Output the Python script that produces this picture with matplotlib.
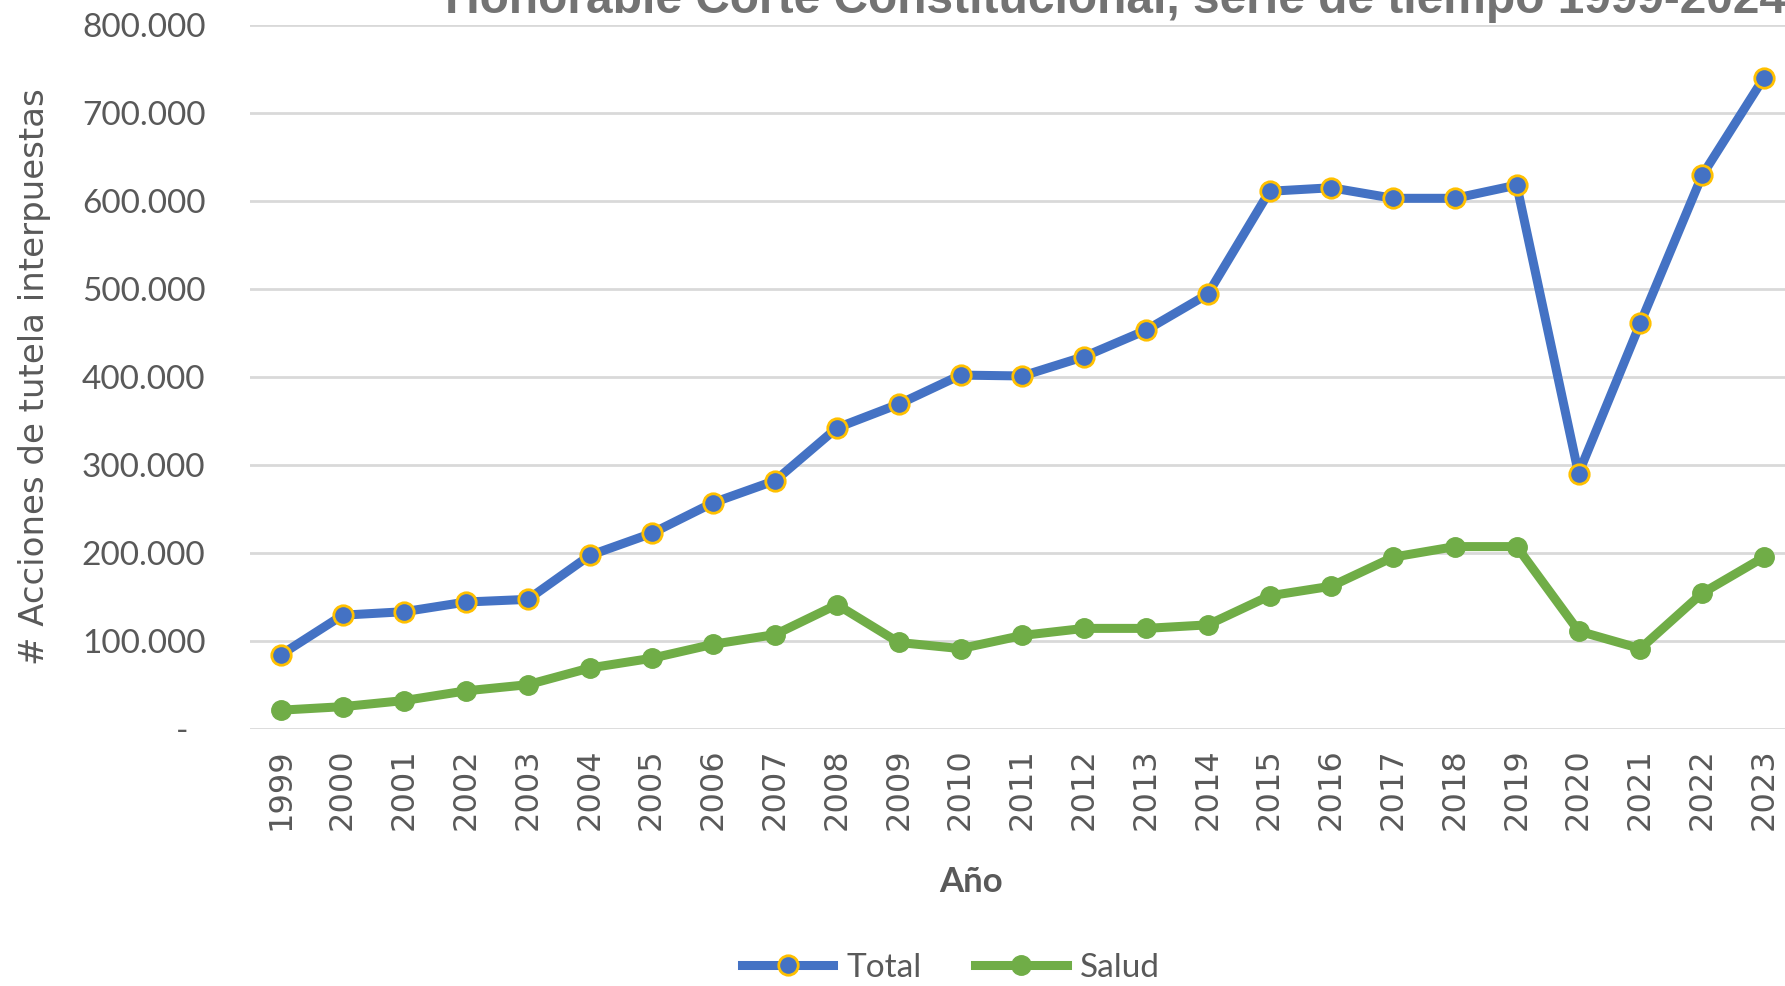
import matplotlib
matplotlib.use("Agg")
import matplotlib.pyplot as plt
from matplotlib.ticker import FuncFormatter

years = list(range(1999, 2024))
total = [84000, 129000, 133000, 144000, 147000, 197000, 222000, 257000, 282000, 342000,
         369000, 402000, 401000, 423000, 453000, 494000, 611000, 615000, 603000, 603000,
         618000, 290000, 461000, 629000, 740000]
salud = [21000, 25000, 32000, 43000, 50000, 69000, 80000, 96000, 107000, 141000,
         98000, 91000, 106000, 114000, 114000, 118000, 151000, 162000, 195000, 207000,
         207000, 111000, 91000, 154000, 195000]
yticks = [0, 100000, 200000, 300000, 400000, 500000, 600000, 700000, 800000]

GRAY = "#595959"
BODY = ["Lato", "DejaVu Sans"]

fig = plt.figure(figsize=(17.85, 9.86), dpi=100)
ax = fig.add_axes([0.140, 0.261, 0.8655, 0.7136])

x = list(range(len(years)))
ax.plot(x, total, "-o", color="#4472C4", lw=6.5, ms=14, mfc="#4472C4",
        mec="#FFC000", mew=2, label="Total", zorder=3)
ax.plot(x, salud, "-o", color="#70AD47", lw=6.5, ms=14, mfc="#70AD47",
        mec="#70AD47", label="Salud", zorder=3)

ax.set_xlim(-0.5, len(years) - 0.5)
ax.set_ylim(0, 800000)
ax.set_yticks(yticks)
ax.yaxis.set_major_formatter(FuncFormatter(
    lambda v, p: "-  " if v == 0 else f"{int(v):,}".replace(",", ".")))
ax.set_xticks(x)
ax.set_xticklabels([str(y) for y in years], rotation=90, fontsize=23,
                   color=GRAY, family="DejaVu Sans")
for lab in ax.get_yticklabels():
    lab.set_family(BODY)
    lab.set_fontsize(24)
    lab.set_color(GRAY)
ax.tick_params(axis="both", length=0)
ax.tick_params(axis="y", pad=32)
ax.tick_params(axis="x", pad=14)

ax.grid(axis="y", color="#D9D9D9", lw=2)
ax.set_axisbelow(True)
for s in ax.spines.values():
    s.set_visible(False)

ax.set_ylabel("# Acciones de tutela interpuestas", fontsize=24.5, color=GRAY,
              family="DejaVu Sans", labelpad=22)
fig.text(971 / 1785, 1 - 882 / 986, "Año", fontsize=25, color=GRAY,
         family=BODY, weight="bold", ha="center", va="center")
fig.text(445 / 1785, 1 - 13 / 986, "Honorable Corte Constitucional, serie de tiempo 1999-2024",
         fontsize=34.5, color="#737373", family="Liberation Sans", weight="bold",
         ha="left", va="baseline")

leg = fig.legend(loc="center", bbox_to_anchor=(951 / 1785, 1 - 968 / 986), ncol=2,
                 frameon=False, prop={"family": BODY, "size": 24},
                 handlelength=2.75, columnspacing=1.6, handletextpad=0.4)
for t in leg.get_texts():
    t.set_color(GRAY)

fig.savefig("out.png", dpi=100)
